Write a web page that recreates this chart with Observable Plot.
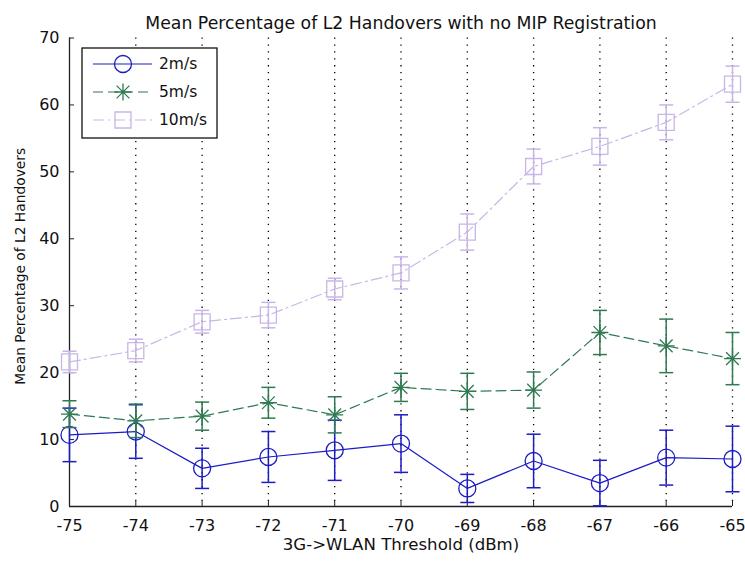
<!DOCTYPE html>
<html>
<head>
<meta charset="utf-8">
<script src="https://cdn.jsdelivr.net/npm/d3@7"></script>
<script src="https://cdn.jsdelivr.net/npm/@observablehq/plot@0.6"></script>
<style>
  html, body { margin: 0; padding: 0; background: #fff; }
  #chart svg { display: block; }
</style>
</head>
<body>
<div id="chart"></div>
<script>
// ---- data ----
const thresholds = [-75, -74, -73, -72, -71, -70, -69, -68, -67, -66, -65];
const yTicks = [0, 10, 20, 30, 40, 50, 60, 70];
const seriesNames = ["2m/s", "5m/s", "10m/s"];

const mean2 = [10.7, 11.2, 5.7, 7.4, 8.4, 9.4, 2.7, 6.8, 3.5, 7.3, 7.1];
const err2  = [4.0, 4.0, 3.0, 3.8, 4.5, 4.3, 2.1, 4.0, 3.4, 4.1, 4.9];

const mean5 = [13.8, 12.8, 13.5, 15.5, 13.7, 17.8, 17.2, 17.4, 26.0, 24.0, 22.1];
const err5  = [2.0, 2.5, 2.1, 2.3, 2.7, 2.1, 2.7, 2.7, 3.3, 4.0, 3.9];

const mean10 = [21.6, 23.3, 27.6, 28.6, 32.5, 34.9, 41.0, 50.8, 53.8, 57.4, 63.1];
const err10  = [1.6, 1.7, 1.7, 1.9, 1.6, 2.4, 2.7, 2.6, 2.8, 2.6, 2.7];

const titleText = "Mean Percentage of L2 Handovers with no MIP Registration";
const xLabel = "3G->WLAN Threshold (dBm)";
const yLabel = "Mean Percentage of L2 Handovers";

// ---- styles ----
const colors = {"2m/s": "#1c1cc4", "5m/s": "#2f7a52", "10m/s": "#c9b6e6"};
const dashes = {"2m/s": null, "5m/s": "10,5", "10m/s": "11,4,2,4"};
const FONT = "'DejaVu Sans', sans-serif";

// custom symbols (r = sqrt(size/PI))
const rad = s => Math.sqrt(s / Math.PI);
const capSym = {draw(ctx, s) { const r = rad(s); ctx.moveTo(-r, 0); ctx.lineTo(r, 0); }};
const squareSym = {draw(ctx, s) { const r = rad(s); ctx.rect(-r, -r, 2 * r, 2 * r); }};
const starSym = {draw(ctx, s) {
  const r = rad(s), d = r * 0.75;
  ctx.moveTo(-r, 0); ctx.lineTo(r, 0);
  ctx.moveTo(0, -r); ctx.lineTo(0, r);
  ctx.moveTo(-d, -d); ctx.lineTo(d, d);
  ctx.moveTo(-d, d); ctx.lineTo(d, -d);
}};
const symbols = {"2m/s": "circle", "5m/s": starSym, "10m/s": squareSym};
const sizes = {"2m/s": 8.5, "5m/s": 8.5, "10m/s": 8};

const means = {"2m/s": mean2, "5m/s": mean5, "10m/s": mean10};
const errs = {"2m/s": err2, "5m/s": err5, "10m/s": err10};

const rows = [];
for (const s of seriesNames) {
  thresholds.forEach((t, i) => {
    rows.push({series: s, x: t, y: means[s][i], lo: Math.max(0, means[s][i] - errs[s][i]), hi: means[s][i] + errs[s][i]});
  });
}

const marks = [
  // dotted vertical grid
  Plot.ruleX(thresholds.slice(1), {stroke: "#000", strokeWidth: 1.3, strokeDasharray: "1.3,5.6"}),
  // axes
  Plot.axisX({ticks: thresholds, tickFormat: d => String(d), label: null, tickSize: -5, tickPadding: 18, fontSize: 16, stroke: "#222"}),
  Plot.axisY({ticks: yTicks, tickFormat: d => String(d), label: null, tickSize: -5, tickPadding: 15, fontSize: 16, stroke: "#222"}),
  Plot.ruleY([0], {stroke: "#222", strokeWidth: 1.3}),
  Plot.ruleX([thresholds[0]], {stroke: "#222", strokeWidth: 1.3}),
];

for (const s of seriesNames) {
  const d = rows.filter(r => r.series === s);
  const c = colors[s];
  marks.push(
    Plot.line(d, {x: "x", y: "y", stroke: c, strokeWidth: 1.2, strokeDasharray: dashes[s]}),
    Plot.ruleX(d, {x: "x", y1: "lo", y2: "hi", stroke: c, strokeWidth: 1.5}),
    Plot.dot(d, {x: "x", y: "hi", symbol: capSym, r: 7, stroke: c, strokeWidth: 1.5}),
    Plot.dot(d, {x: "x", y: "lo", symbol: capSym, r: 7, stroke: c, strokeWidth: 1.5}),
    Plot.dot(d, {x: "x", y: "y", symbol: symbols[s], r: sizes[s], stroke: c, fill: "none", strokeWidth: 1.3})
  );
}

// title and axis labels as text
marks.push(
  Plot.text([titleText], {frameAnchor: "top", dy: -21, fontSize: 17.3, fill: "#111"}),
  Plot.text([xLabel], {frameAnchor: "bottom", dy: 43, fontSize: 16.6, fill: "#111"}),
  Plot.text([yLabel], {frameAnchor: "left", textAnchor: "middle", dx: -49, dy: -6, rotate: -90, fontSize: 13.8, fill: "#111"})
);

const chart = Plot.plot({
  width: 745,
  height: 561,
  marginLeft: 69,
  marginRight: 13,
  marginTop: 37.5,
  marginBottom: 55,
  style: {fontFamily: FONT, fontSize: "15px", background: "#fff", color: "#111"},
  x: {domain: [-75, -65], label: null},
  y: {domain: [0, 70], label: null},
  marks
});

// ---- legend (drawn inside the SVG, top-left of the frame) ----
const svg = d3.select(chart);
const lg = svg.append("g").attr("transform", "translate(82,48)");
lg.append("rect").attr("width", 135).attr("height", 90).attr("fill", "#fff").attr("stroke", "#111").attr("stroke-width", 1.3);
seriesNames.forEach((s, i) => {
  const y = 16 + i * 28;
  const c = colors[s];
  const g = lg.append("g").attr("transform", `translate(0,${y})`);
  g.append("line").attr("x1", 11).attr("x2", 70).attr("y1", 0).attr("y2", 0)
    .attr("stroke", c).attr("stroke-width", 1.2).attr("stroke-dasharray", dashes[s]);
  const sym = symbols[s] === "circle" ? d3.symbolCircle : symbols[s];
  g.append("path").attr("transform", "translate(41,0)")
    .attr("d", d3.symbol(sym, Math.PI * sizes[s] * sizes[s])())
    .attr("fill", "none").attr("stroke", c).attr("stroke-width", 1.3);
  g.append("text").attr("x", 77).attr("y", 0).attr("dy", "0.35em")
    .attr("text-anchor", "start")
    .attr("font-family", FONT).attr("font-size", 15.5).attr("fill", "#111").text(s);
});

document.getElementById("chart").appendChild(chart);
</script>
</body>
</html>
